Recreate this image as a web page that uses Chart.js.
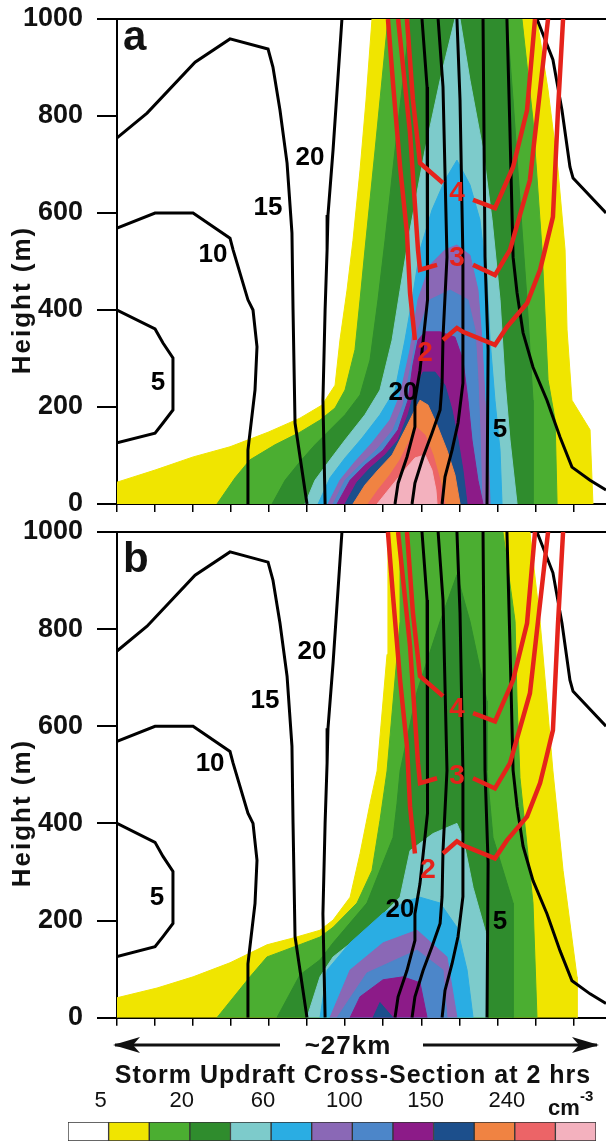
<!DOCTYPE html>
<html>
<head>
<meta charset="utf-8">
<script src="https://cdn.jsdelivr.net/npm/chart.js@4.4.1/dist/chart.umd.min.js"></script>
<style>
  body { margin: 0; background: #fff; }
  #wrap { position: relative; width: 606px; height: 1143px; overflow: hidden; }
  canvas { position: absolute; left: 0; }
</style>
</head>
<body>
<div id="wrap">
  <canvas id="panelA" width="606" height="520" style="top:0px"></canvas>
  <canvas id="panelB" width="606" height="520" style="top:513px"></canvas>
  <canvas id="colorbar" width="606" height="110" style="top:1033px"></canvas>
</div>
<script>
// axes: distance along the cross-section (km) and height (m)
var xTicksKm = [0, 2.1, 4.2, 6.3, 8.4, 10.5, 12.6, 14.7, 16.8, 18.9, 21.0, 23.1, 25.2];
var levelNames = ['5', '20', '60', '100', '150', '240'];
var levelColors = ['#ffffff', '#f0e500', '#4bae31', '#2f8c2d', '#7dcbcb', '#2aade3',
                   '#8a68b6', '#4c86c9', '#8c1b88', '#1c4f8c', '#f08342', '#ec6467', '#f3b1be'];

// ---- panel a: filled concentration contours [km, m] (level 1 = yellow ... 12 = pink)
var aYellow = [[0,0],[0,45],[2.1,70],[4.2,97],[6.24,118],[8.34,148],[10.1,177],[11.32,204],[12.04,245],[12.31,338],[12.7,441],[13.03,544],[13.42,689],[13.75,833],[14.08,1000],[23.19,1000],[23.8,854],[24.35,689],[24.74,524],[24.85,359],[25.12,214],[26.12,153],[26.28,0]];
var aGreen = [[5.52,0],[6.52,54],[7.34,91],[8.72,122],[10.1,148],[11.21,173],[12.04,198],[12.59,235],[13.14,318],[13.42,421],[13.69,524],[14.25,730],[14.96,1000],[22.36,1000],[22.97,792],[23.47,524],[23.8,256],[24.19,173],[24.3,0]];
var aDarkGreen = [[8.56,0],[9.28,49],[10.1,87],[10.93,122],[11.76,153],[12.59,184],[13.42,225],[13.97,297],[14.41,421],[14.8,544],[15.35,730],[16.18,1000],[21.53,1000],[21.87,833],[22.25,627],[22.64,421],[22.97,214],[22.97,0]];
var aCyan = [[10.38,0],[10.93,49],[11.76,91],[12.59,132],[13.69,184],[14.52,235],[15.19,338],[15.63,441],[16.18,565],[17.01,730],[17.84,874],[18.66,1000],[18.94,1000],[19.49,874],[20.21,730],[20.71,586],[21.15,421],[21.42,256],[21.7,132],[22.09,0]];
var aSky = [[11.1,0],[11.76,54],[12.59,95],[13.53,136],[14.52,184],[15.35,235],[15.9,338],[16.29,421],[16.73,524],[17.39,606],[18.11,668],[18.77,709],[19.49,658],[20.04,586],[20.43,462],[20.6,338],[20.87,214],[21.15,111],[21.26,0]];
var aLavender = [[11.65,0],[12.31,49],[13.14,87],[14.08,126],[15.07,173],[15.63,225],[16.18,318],[16.62,421],[17.28,493],[18.11,524],[18.77,534],[19.49,513],[19.93,441],[20.15,338],[20.32,214],[20.49,111],[20.6,0]];
var aCornflower = [[11.93,0],[12.59,49],[13.42,80],[14.41,115],[15.24,153],[15.79,204],[16.18,276],[16.62,359],[17.28,421],[18.39,441],[19.38,421],[19.77,359],[19.93,256],[20.04,153],[20.15,0]];
var aPurple = [[12.15,0],[12.87,49],[13.69,80],[14.69,111],[15.52,153],[16.07,214],[16.34,287],[16.62,338],[17.01,355],[17.84,355],[18.66,344],[19.1,297],[19.38,214],[19.6,132],[19.93,49],[20.21,0]];
var aDarkBlue = [[12.59,0],[13.25,45],[13.97,74],[14.8,101],[15.52,132],[16.07,184],[16.45,235],[16.9,272],[17.56,272],[18.11,245],[18.5,194],[18.83,132],[19.1,70],[19.33,0]];
var aOrange = [[13.03,0],[13.69,39],[14.41,70],[15.19,101],[15.9,153],[16.45,194],[16.73,214],[17.17,204],[17.67,163],[18.22,111],[18.66,60],[18.94,0]];
var aSalmon = [[13.86,0],[14.41,29],[15.07,60],[15.63,91],[16.18,132],[16.57,157],[17.01,142],[17.45,101],[17.84,49],[18.11,0]];
var aPink = [[14.36,0],[15.07,33],[15.79,66],[16.45,95],[17.01,101],[17.39,70],[17.61,29],[17.67,0]];

// ---- panel b: filled concentration contours [km, m]
var bYellow = [[0,0],[0,41],[2.21,61],[4.2,84],[6.24,113],[8.28,150],[9.72,164],[11.21,180],[11.93,201],[12.87,248],[13.42,338],[13.97,441],[14.36,508],[14.91,748],[14.96,1000],[22.8,1000],[23.36,816],[23.74,652],[24.07,508],[24.63,303],[25.4,84],[25.4,0]];
var bGreen = [[5.52,0],[7.34,84],[8.28,125],[9.72,145],[11.21,166],[11.93,186],[13.25,236],[14.08,303],[14.52,406],[14.91,508],[15.63,816],[15.63,1000],[21.31,1000],[21.98,816],[22.09,652],[22.25,494],[22.97,236],[23.19,0]];
var bDarkGreen = [[8.83,0],[10.1,88],[11.21,119],[11.93,154],[13.8,236],[15.24,371],[15.46,441],[15.63,508],[16.57,672],[17.84,816],[18.77,912],[19.49,816],[20.43,652],[20.43,508],[20.76,371],[21.87,236],[21.87,0]];
var bCyan = [[10.49,0],[11.21,84],[11.93,125],[13.8,180],[15.63,248],[16.18,344],[17.45,379],[18.77,400],[19.1,371],[19.66,268],[20.43,166],[20.43,0]];
var bSky = [[11.21,0],[11.6,98],[12.87,154],[14.69,215],[16.18,242],[16.73,248],[17.84,236],[18.77,186],[19.33,98],[19.66,0]];
var bLavender = [[11.76,0],[12.87,98],[14.69,154],[16.57,180],[18.22,125],[18.77,0]];
var bCornflower = [[12.15,0],[13.8,92],[16.57,139],[18.0,98],[18.22,0]];
var bPurple = [[12.87,0],[13.42,43],[14.69,78],[15.79,84],[16.73,72],[17.12,0]];
var bDarkBlue = [[14.14,0],[14.52,31],[15.24,0]];

// ---- black contour lines (same in both panels) [km, m]
var c5 = [[0,400],[2.1,361],[2.54,332],[3.09,301],[3.09,194],[2.54,167],[2.1,146],[0,126]];
var c10 = [[0,569],[2.1,600],[4.2,600],[6.24,548],[6.41,524],[7.23,421],[7.51,400],[7.73,324],[7.62,235],[7.34,146],[7.23,111],[7.23,0]];
var c15 = [[0,755],[1.66,806],[4.31,911],[6.24,959],[8.34,938],[8.61,901],[9.0,812],[9.39,703],[9.66,559],[9.72,400],[9.83,167],[10.49,0]];
var c20 = [[12.42,1000],[11.93,730],[11.65,596],[11.6,524],[11.49,400],[11.37,214],[11.49,0]];
var lineA = [[16.84,1000],[17.12,860],[17.17,509],[17.12,421],[16.73,276],[16.45,214],[16.45,159],[16.01,97],[15.52,43],[15.35,0]];
var lineB = [[17.73,1000],[18.0,860],[18.22,509],[18.0,344],[17.95,249],[17.84,194],[17.39,146],[16.9,97],[16.45,43],[16.29,0]];
var lineC = [[18.77,1000],[18.94,833],[19.1,509],[19.1,249],[18.83,167],[18.5,111],[18.11,56],[17.95,0]];
var lineD = [[20.21,1000],[20.32,509],[20.49,318],[20.43,0]];
var lineE = [[21.53,1000],[21.7,765],[21.87,509],[22.09,435],[22.42,353],[22.97,282],[23.74,214],[24.46,138],[25.12,76],[26.12,49],[27,29]];
var lineF = [[23.19,1000],[24.07,916],[24.57,812],[25.01,695],[25.18,672],[27,600]];

// ---- red contour lines (split where the label sits) [km, m]
var r2Left = [[14.96,1000],[15.24,868],[15.63,695],[16.01,559],[16.18,435],[16.45,338]];
var r2Right = [[18.0,338],[18.77,363],[19.1,355],[20.87,328],[21.53,365],[22.64,414],[23.36,483],[23.63,524],[24.07,592],[24.35,812],[24.63,1000]];
var r3Left = [[15.52,1000],[16.18,765],[16.62,524],[16.73,483],[17.67,493]];
var r3Right = [[19.66,493],[20.87,472],[21.7,524],[22.8,668],[23.8,1000]];
var r4Left = [[16.01,1000],[16.34,833],[16.73,703],[18.0,662]];
var r4Right = [[19.66,627],[20.87,610],[21.87,695],[22.64,812],[23.08,1000]];

// ---- contour labels [km, m, text, red?]
var labelsA = [[10.66,713,'20',0],[8.34,610,'15',0],[5.3,513,'10',0],[2.26,249,'5',0],[15.79,229,'20',0],[21.15,153,'5',0],
               [17.01,311,'2',1],[18.77,507,'3',1],[18.77,641,'4',1]];
var labelsB = [[10.77,754,'20',0],[8.17,652,'15',0],[5.14,523,'10',0],[2.21,246,'5',0],[15.63,221,'20',0],[21.15,197,'5',0],
               [17.17,303,'2',1],[18.77,498,'3',1],[18.77,635,'4',1]];

var FONT = '"Liberation Sans", Arial, Helvetica, sans-serif';
var RED = '#e5231b';

function pts(arr) {
    return arr.map(function (p) { return {x: p[0], y: p[1]}; });
}

function buildDatasets(fills) {
    var ds = [];
    fills.forEach(function (poly, i) {
        var c = levelColors[i + 1];
        ds.push({data: pts(poly), showLine: true, fill: 'shape', backgroundColor: c,
                 borderColor: c, borderWidth: 1, pointRadius: 0, order: 100 - i});
    });
    [c5, c10, c15, c20, lineA, lineB, lineC, lineD, lineE, lineF].forEach(function (l) {
        ds.push({data: pts(l), showLine: true, fill: false, borderColor: '#000',
                 borderWidth: 3, pointRadius: 0, order: 1});
    });
    [r2Left, r2Right, r3Left, r3Right, r4Left, r4Right].forEach(function (l) {
        ds.push({data: pts(l), showLine: true, fill: false, borderColor: RED,
                 borderWidth: 4.5, pointRadius: 0, order: 0});
    });
    return ds;
}

// contour labels, panel letter and y title
var panelText = {
    id: 'panelText',
    afterDatasetsDraw: function (chart, args, opts) {
        var ctx = chart.ctx, x = chart.scales.x, y = chart.scales.y, area = chart.chartArea;
        ctx.save();
        ctx.textAlign = 'center';
        ctx.textBaseline = 'middle';
        opts.items.forEach(function (l) {
            ctx.font = (l[3] ? 'bold 28px ' : 'bold 26px ') + FONT;
            ctx.fillStyle = l[3] ? RED : '#000';
            ctx.fillText(l[2], x.getPixelForValue(l[0]), y.getPixelForValue(l[1]));
        });
        ctx.textAlign = 'left';
        ctx.textBaseline = 'alphabetic';
        ctx.fillStyle = '#111';
        ctx.font = 'bold 42px ' + FONT;
        ctx.fillText(opts.letter, area.left + 6, area.top + opts.letterDy);
        ctx.restore();
    },
    afterDraw: function (chart) {
        var ctx = chart.ctx, area = chart.chartArea;
        ctx.save();
        ctx.translate(23, area.top + 281);
        ctx.rotate(-Math.PI / 2);
        ctx.textAlign = 'center';
        ctx.textBaseline = 'middle';
        ctx.fillStyle = '#111';
        ctx.font = 'bold 26px ' + FONT;
        ctx.letterSpacing = '2px';
        ctx.fillText('Height (m)', 0, 0);
        ctx.restore();
    }
};

function makePanel(id, fills, labels, letter, letterDy, areaBottom) {
    var pad = {top: 19, right: 0, bottom: 520 - areaBottom - 16, left: 0};
    return new Chart(document.getElementById(id), {
        type: 'scatter',
        data: {datasets: buildDatasets(fills)},
        options: {
            responsive: false,
            animation: false,
            layout: {padding: pad},
            plugins: {
                legend: {display: false},
                tooltip: {enabled: false},
                panelText: {items: labels, letter: letter, letterDy: letterDy}
            },
            scales: {
                x: {
                    type: 'linear', position: 'bottom', min: 0, max: 27,
                    afterBuildTicks: function (s) { s.ticks = xTicksKm.map(function (v) { return {value: v}; }); },
                    afterFit: function (s) { s.height = 16; },
                    ticks: {callback: function () { return ''; }, padding: 0, autoSkip: false},
                    grid: {drawOnChartArea: false, drawTicks: true, tickLength: 8, color: '#000', lineWidth: 1.5},
                    border: {display: true, color: '#000', width: 2}
                },
                xTop: {
                    type: 'linear', position: 'top', min: 0, max: 27,
                    afterFit: function (s) { s.height = 0; },
                    ticks: {display: false},
                    grid: {display: false, drawTicks: false},
                    border: {display: true, color: '#000', width: 2}
                },
                y: {
                    min: 0, max: 1000,
                    afterFit: function (s) { s.width = 117; },
                    // tiny lineHeight keeps the label half-height out of the layout padding
                    ticks: {stepSize: 200, autoSkip: false, padding: 14, color: '#111',
                            font: {family: FONT, size: 27, weight: 'bold', lineHeight: 0.1},
                            callback: function (v) { return String(v); }},
                    grid: {drawOnChartArea: false, tickLength: 20, color: '#000', lineWidth: 2},
                    border: {display: true, color: '#000', width: 2}
                }
            }
        },
        plugins: [panelText]
    });
}

makePanel('panelA', [aYellow, aGreen, aDarkGreen, aCyan, aSky, aLavender, aCornflower, aPurple, aDarkBlue, aOrange, aSalmon, aPink], labelsA, 'a', 31, 504);
makePanel('panelB', [bYellow, bGreen, bDarkGreen, bCyan, bSky, bLavender, bCornflower, bPurple, bDarkBlue], labelsB, 'b', 40, 505);

// arrows, caption and colour key labels
function arrow(ctx, x0, x1, yy, headLeft) {
    ctx.beginPath();
    ctx.moveTo(x0, yy);
    ctx.lineTo(x1, yy);
    ctx.stroke();
    var tip = headLeft ? x0 - 2 : x1 + 2, d = headLeft ? 1 : -1;
    ctx.beginPath();
    ctx.moveTo(tip, yy);
    ctx.lineTo(tip + d * 27, yy - 8);
    ctx.lineTo(tip + d * 20, yy);
    ctx.lineTo(tip + d * 27, yy + 8);
    ctx.closePath();
    ctx.fill();
}

var bottomText = {
    id: 'bottomText',
    afterDraw: function (chart) {
        var ctx = chart.ctx, xs = chart.scales.x;
        ctx.save();
        ctx.fillStyle = '#111';
        ctx.strokeStyle = '#111';
        ctx.lineWidth = 3;
        arrow(ctx, 115, 280, 12, true);
        arrow(ctx, 423, 597, 12, false);
        ctx.textAlign = 'center';
        ctx.textBaseline = 'middle';
        ctx.font = 'bold 26px ' + FONT;
        ctx.letterSpacing = '1px';
        ctx.fillText('~27km', 348, 14);
        ctx.font = 'bold 25px ' + FONT;
        ctx.fillText('Storm Updraft Cross-Section at 2 hrs', 353, 43);
        ctx.letterSpacing = '0px';
        ctx.font = '22px ' + FONT;
        levelNames.forEach(function (t, i) {
            ctx.fillText(t, xs.getPixelForValue(2 * i + 1) - 8, 68);
        });
        ctx.textAlign = 'left';
        ctx.font = 'bold 22px ' + FONT;
        ctx.fillText('cm', 548, 76);
        ctx.font = 'bold 15px ' + FONT;
        ctx.fillText('-3', 580, 64);
        ctx.restore();
    }
};

new Chart(document.getElementById('colorbar'), {
    type: 'bar',
    data: {
        labels: [''],
        datasets: levelColors.map(function (c) {
            return {data: [1], backgroundColor: c, borderColor: '#333', borderWidth: 1,
                    borderSkipped: false, barPercentage: 1, categoryPercentage: 1};
        })
    },
    options: {
        indexAxis: 'y',
        responsive: false,
        animation: false,
        layout: {padding: {top: 89, bottom: 2, left: 68, right: 10}},
        plugins: {legend: {display: false}, tooltip: {enabled: false}},
        scales: {
            x: {stacked: true, min: 0, max: 13, display: false},
            y: {stacked: true, display: false}
        }
    },
    plugins: [bottomText]
});
</script>
</body>
</html>
